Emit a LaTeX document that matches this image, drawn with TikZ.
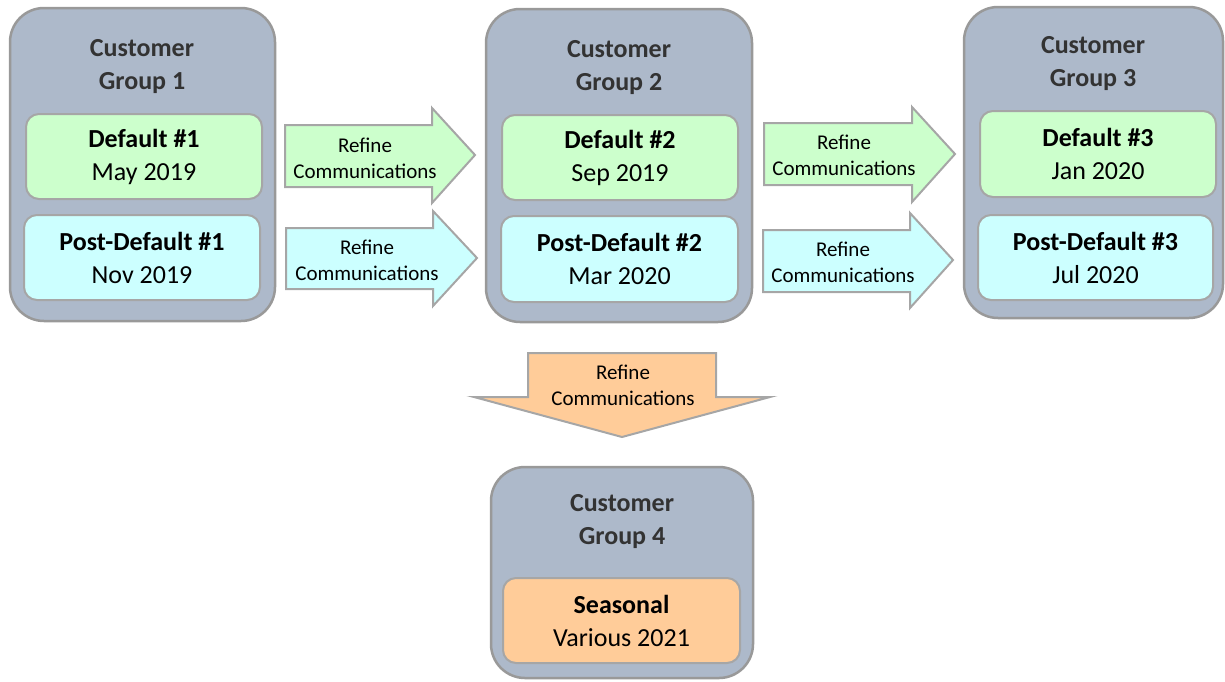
\documentclass[tikz,border=0pt]{standalone}
\usepackage{fontspec}
\setmainfont{Carlito}
\definecolor{grp}{HTML}{ADB9CA}
\definecolor{grpline}{HTML}{999999}
\definecolor{boxline}{HTML}{A6A6A6}
\definecolor{grn}{HTML}{CCFFCC}
\definecolor{cyn}{HTML}{CCFFFF}
\definecolor{org}{HTML}{FFCC99}
\definecolor{ttl}{HTML}{333333}
\tikzset{
  group/.style={draw=grpline, line width=2.5pt, fill=grp, rounded corners=34pt, inner sep=0pt},
  innerbox/.style={draw=boxline, line width=2pt, rounded corners=13pt, inner sep=0pt,
    align=center, font=\fontsize{26}{33}\selectfont},
  blockarrow/.style={draw=boxline, line width=2pt, line join=miter},
  grouptitle/.style={text=ttl, font=\fontsize{26}{33}\selectfont\bfseries, align=center},
  arrowlabel/.style={align=center, font=\fontsize{21}{26}\selectfont},
}
\begin{document}
\begin{tikzpicture}[x=1pt,y=-1pt]
\useasboundingbox (0,0) rectangle (1225,681);

% group containers
\node[group, minimum width=265pt, minimum height=313pt] (g1) at (142.5,164.5) {};
\node[group, minimum width=266pt, minimum height=313pt] (g2) at (619,165.5) {};
\node[group, minimum width=259pt, minimum height=311pt] (g3) at (1093.5,162.5) {};
\node[group, minimum width=262pt, minimum height=211pt] (g4) at (622,572.5) {};

% titles
\node[grouptitle] (t1) at (142,66.5) {Customer\\Group 1};
\node[grouptitle] (t2) at (619,67.5) {Customer\\Group 2};
\node[grouptitle] (t3) at (1093,64) {Customer\\Group 3};
\node[grouptitle] (t4) at (622,522) {Customer\\Group 4};

% inner boxes
\node[innerbox, fill=grn, minimum width=236pt, minimum height=85pt] (d1) at (144,156.5) {\textbf{Default \#1}\\May 2019};
\node[innerbox, fill=cyn, minimum width=236pt, minimum height=85pt] (p1) at (142,257.5) {\textbf{Post-Default \#1}\\Nov 2019};
\node[innerbox, fill=grn, minimum width=236pt, minimum height=85pt] (d2) at (620,157.5) {\textbf{Default \#2}\\Sep 2019};
\node[innerbox, fill=cyn, minimum width=237pt, minimum height=86pt] (p2) at (619.5,259) {\textbf{Post-Default \#2}\\Mar 2020};
\node[innerbox, fill=grn, minimum width=236pt, minimum height=86pt] (d3) at (1098,154) {\textbf{Default \#3}\\Jan 2020};
\node[innerbox, fill=cyn, minimum width=235pt, minimum height=85pt] (p3) at (1095.5,257.5) {\textbf{Post-Default \#3}\\Jul 2020};
\node[innerbox, fill=org, minimum width=237pt, minimum height=85pt] (s4) at (621.5,620.5) {\textbf{Seasonal}\\Various 2021};

% block arrows
\draw[blockarrow, fill=grn] (285,125) -- (432,125) -- (432,108) -- (475,155) -- (432,203) -- (432,187) -- (285,187) -- cycle;
\node[arrowlabel] (a1) at (365,158) {Refine\\Communications};

\draw[blockarrow, fill=cyn] (286,228) -- (433,228) -- (433,211) -- (477,258) -- (433,306) -- (433,289) -- (286,289) -- cycle;
\node[arrowlabel] (a2) at (367,260) {Refine\\Communications};

\draw[blockarrow, fill=grn] (764,123) -- (912,123) -- (912,107) -- (955,154) -- (912,202) -- (912,185) -- (764,185) -- cycle;
\node[arrowlabel] (a3) at (844,155.5) {Refine\\Communications};

\draw[blockarrow, fill=cyn] (763,230) -- (910,230) -- (910,213) -- (953,260) -- (910,308) -- (910,292) -- (763,292) -- cycle;
\node[arrowlabel] (a4) at (843,262) {Refine\\Communications};

\draw[blockarrow, fill=org] (528,353) -- (716,353) -- (716,397) -- (770,397) -- (622,437) -- (474,397) -- (528,397) -- cycle;
\node[arrowlabel] (a5) at (623,385) {Refine\\Communications};
\end{tikzpicture}
\end{document}
